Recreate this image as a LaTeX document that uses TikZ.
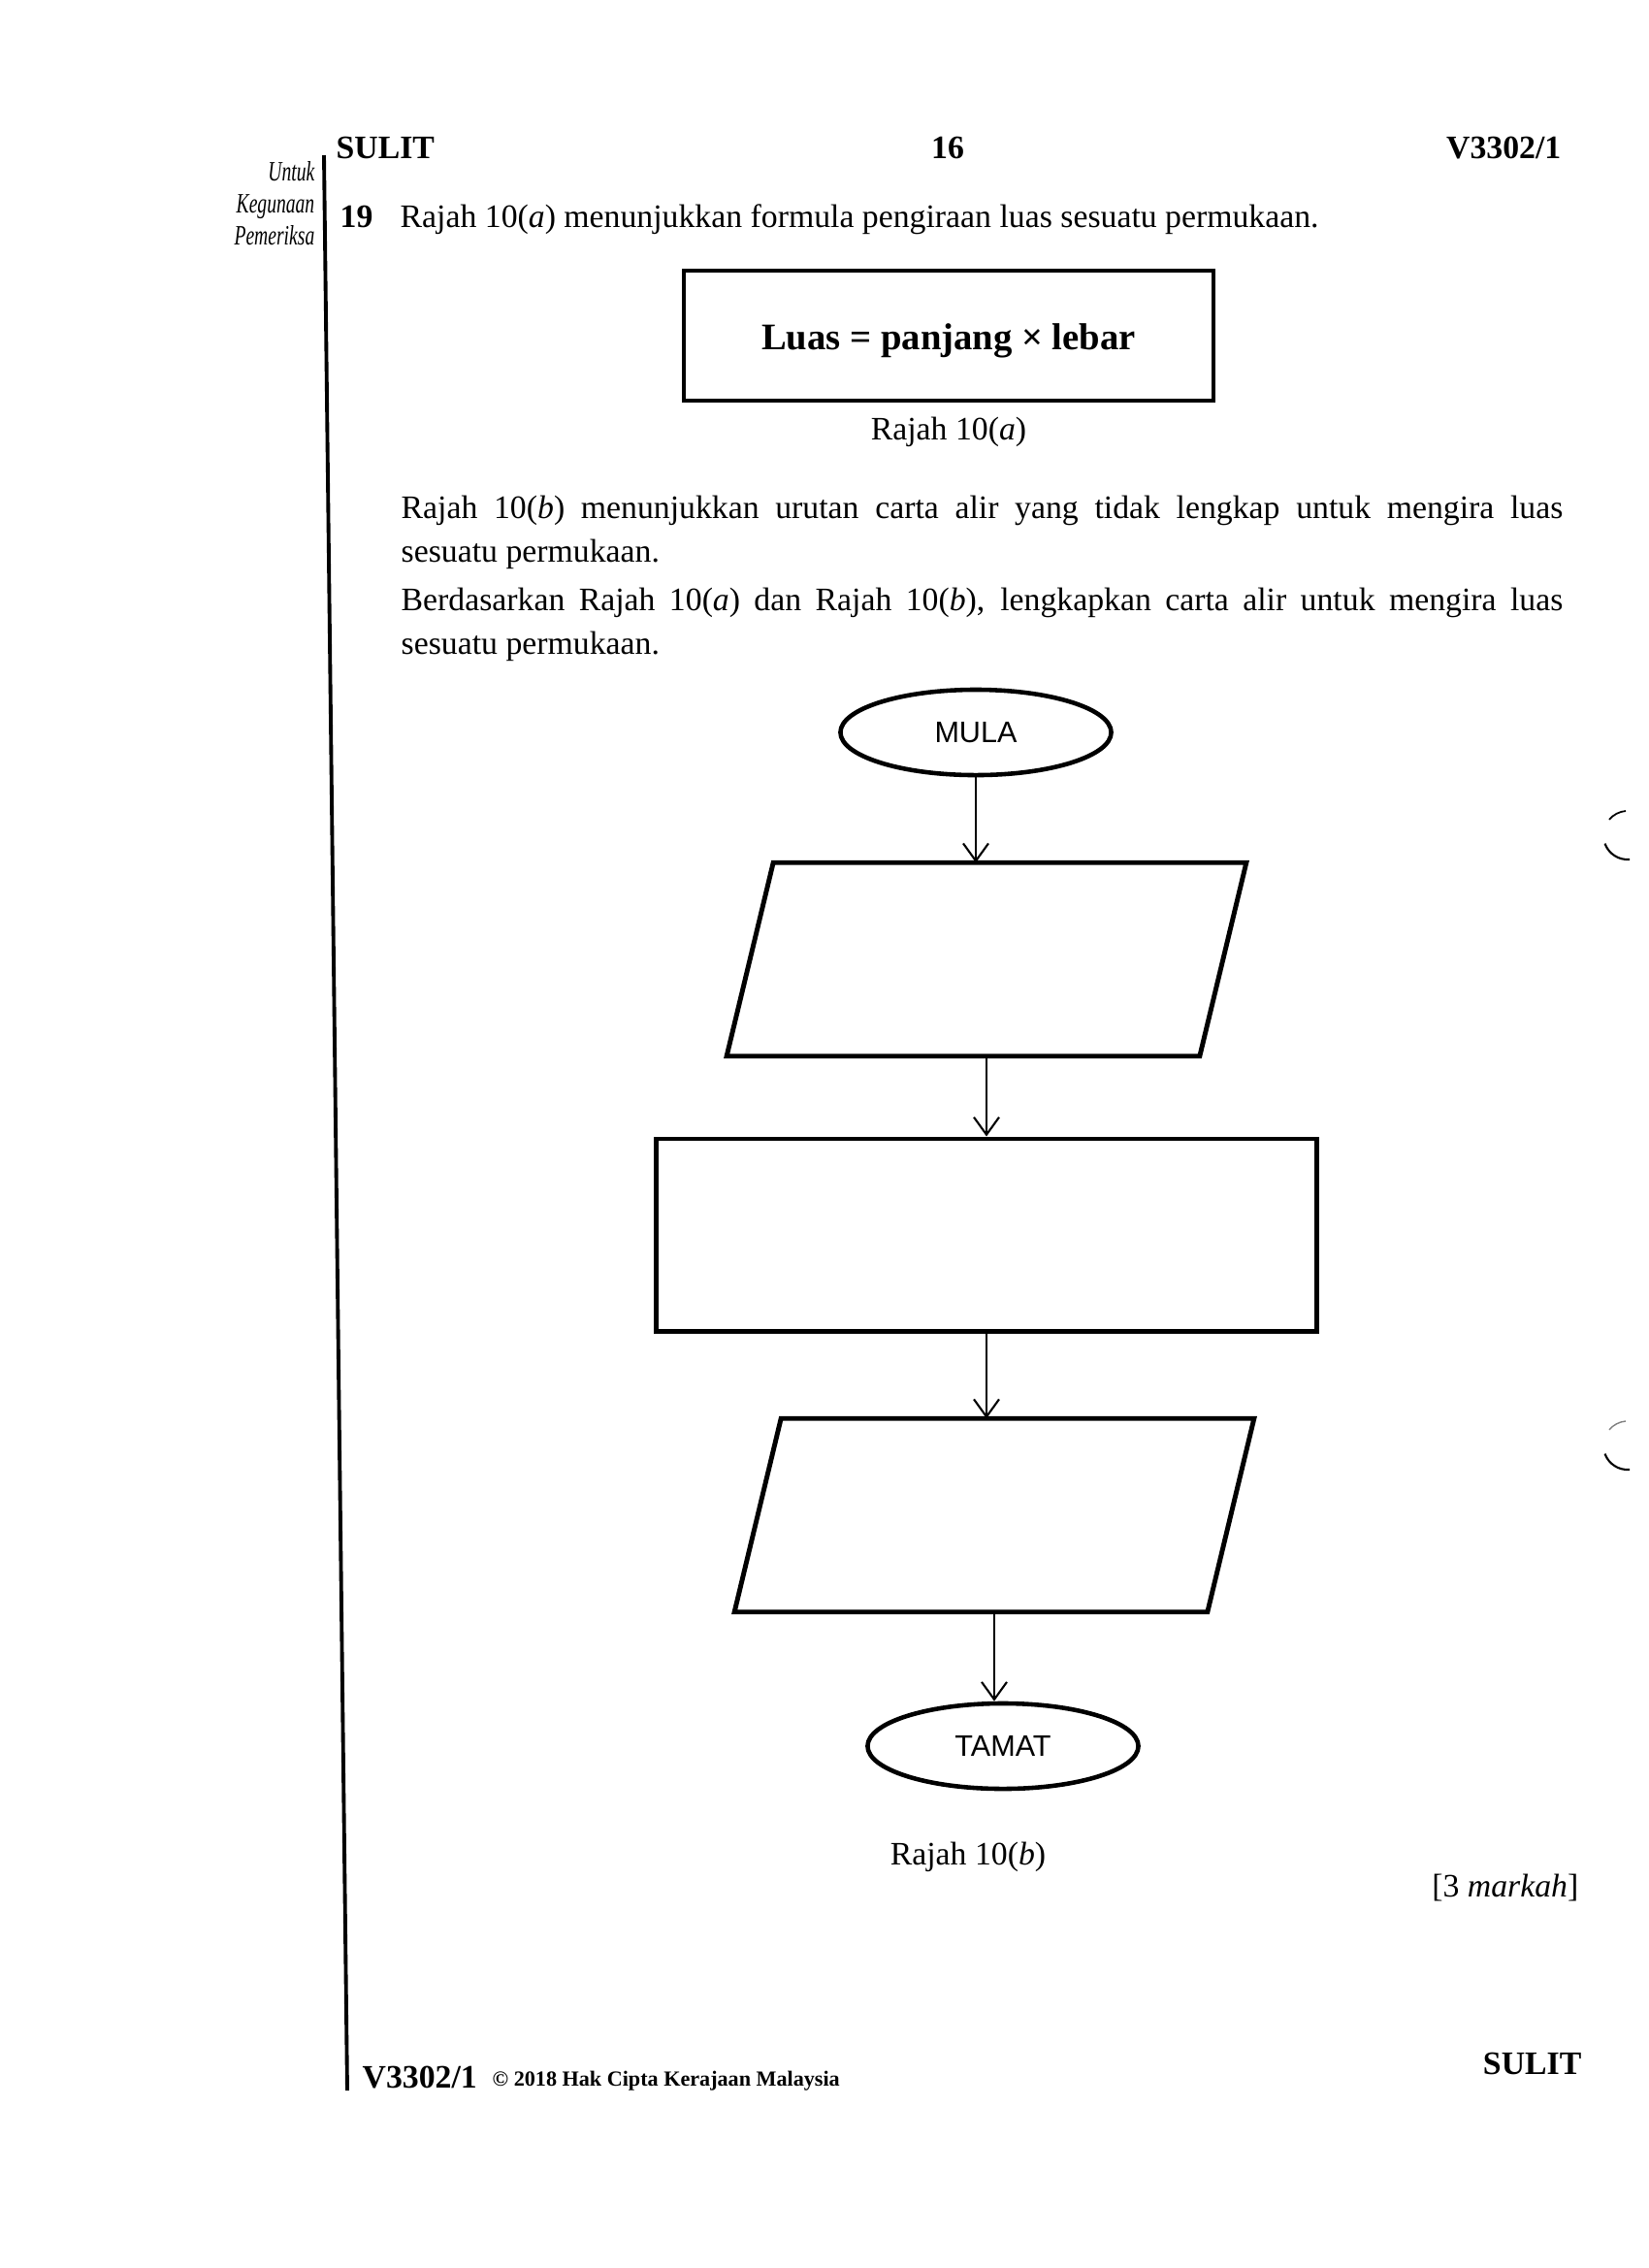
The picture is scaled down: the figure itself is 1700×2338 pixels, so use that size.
\documentclass[tikz,border=0pt]{standalone}
\usepackage{fontspec}
\usepackage{graphicx}
\setmainfont{Liberation Serif}
\newfontfamily\flowfont{Liberation Sans}
\usetikzlibrary{shapes.geometric,arrows.meta}
\newcommand{\txt}{\fontsize{9.6}{12.8}\selectfont}
\newcommand{\margintxt}[1]{\scalebox{0.68}[1]{\fontsize{8.2}{9}\selectfont\itshape #1}}
% slanted input/output box drawn round a named node
\newcommand{\ioshape}[1]{\draw[line width=1.4pt, line join=miter] ([xshift=0.24cm]#1.north west) -- ([xshift=0.24cm]#1.north east) -- ([xshift=-0.24cm]#1.south east) -- ([xshift=-0.24cm]#1.south west) -- cycle;}

\begin{document}
\begin{tikzpicture}[x=0.01cm, y=-0.01cm,
    every node/.style={inner sep=0pt},
    term/.style={ellipse, draw, line width=1.3pt, minimum width=2.79cm, minimum height=0.88cm, font=\flowfont\fontsize{8.7}{10}\selectfont},
    io/.style={rectangle, minimum width=4.86cm, minimum height=1.98cm},
    proc/.style={rectangle, draw, line width=1.4pt, minimum width=6.8cm, minimum height=1.98cm},
    flow/.style={line width=0.6pt, -{Straight Barb[length=1.8mm,width=2.6mm]}}]
    \useasboundingbox (0,0) rectangle (1700,2338);
    % Header
    \node[anchor=base west] (sulittop) at (346,163) {\txt\bfseries SULIT};
    \node[anchor=base] (pagenum) at (977,163) {\txt\bfseries 16};
    \node[anchor=base east] (codetop) at (1610,163) {\txt\bfseries V3302/1};
    % Margin
    \node[anchor=base east] (untuk) at (325,186) {\margintxt{Untuk}};
    \node[anchor=base east] (kegunaan) at (325,219) {\margintxt{Kegunaan}};
    \node[anchor=base east] (pemeriksa) at (325,252) {\margintxt{Pemeriksa}};
    \draw[line width=1.1pt] (334,160) -- (358,2155);
    % Question
    \node[anchor=base west] (qnum) at (350,234) {\txt\bfseries 19};
    \node[anchor=base west] (qtext) at (412,234) {\txt Rajah 10(\textit{a}) menunjukkan formula pengiraan luas sesuatu permukaan.};
    \node[draw, line width=1pt, minimum width=5.46cm, minimum height=1.34cm] (formula) at (978,346) {\raisebox{-4.2pt}[0pt][0pt]{\fontsize{11}{13}\selectfont\bfseries Luas = panjang × lebar}};
    \node[anchor=base] (capa) at (978,453) {\txt Rajah 10(\textit{a})};
    \node[anchor=base west] (parai) at (413,534) {\txt\makebox[11.97cm][s]{Rajah 10(\textit{b}) menunjukkan urutan carta alir yang tidak lengkap untuk mengira luas}};
    \node[anchor=base west] (paraii) at (413,579) {\txt sesuatu permukaan.};
    \node[anchor=base west] (paraiii) at (413,629) {\txt\makebox[11.97cm][s]{Berdasarkan Rajah 10(\textit{a}) dan Rajah 10(\textit{b}), lengkapkan carta alir untuk mengira luas}};
    \node[anchor=base west] (paraiv) at (413,674) {\txt sesuatu permukaan.};
    % Flow chart
    \node[term] (mula) at (1006,755) {MULA};
    \node[io] (input) at (1017,989) {};
    \ioshape{input}
    \node[proc] (proses) at (1017,1273) {};
    \node[io] (output) at (1025,1562) {};
    \ioshape{output}
    \node[term] (tamat) at (1034,1800) {TAMAT};
    \draw[flow] (mula.south) -- (mula.south |- input.north);
    \draw[flow] (input.south) -- (input.south |- proses.north);
    \draw[flow] (proses.south) -- (proses.south |- output.north);
    \draw[flow] (output.south) -- (output.south |- tamat.north);
    \node[anchor=base] (capb) at (998,1922) {\txt Rajah 10(\textit{b})};
    \node[anchor=base east] (markah) at (1628,1955) {\txt [3 \textit{markah}]};
    % Footer
    \node[anchor=base west] (codebot) at (373,2152) {\txt\bfseries V3302/1};
    \node[anchor=base west] (copy) at (507,2150) {\fontsize{6.3}{8}\selectfont\bfseries © 2018 Hak Cipta Kerajaan Malaysia};
    \node[anchor=base east] (sulitbot) at (1631,2138) {\txt\bfseries SULIT};
    % Punch holes
    \draw[line width=0.5pt] (1676,836) arc[start angle=95, end angle=140, radius=0.25cm];
    \draw[line width=0.6pt] (1654.5,869.6) arc[start angle=200, end angle=275, radius=0.25cm];
    \draw[line width=0.4pt, gray] (1676,1465) arc[start angle=95, end angle=140, radius=0.25cm];
    \draw[line width=0.6pt] (1654.5,1498.6) arc[start angle=200, end angle=275, radius=0.25cm];
\end{tikzpicture}
\end{document}
